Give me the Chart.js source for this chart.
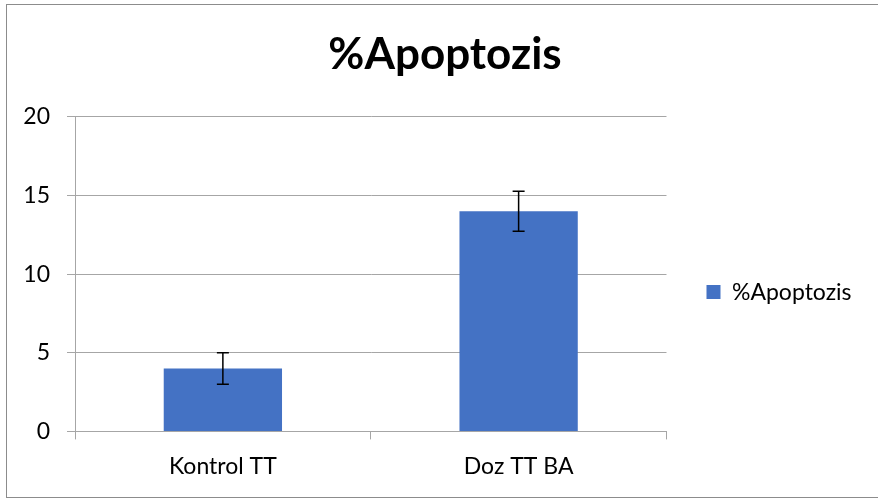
<!DOCTYPE html>
<html lang="tr">
<head>
    <meta charset="UTF-8">
    <title>%Apoptozis</title>
    <script src="https://cdn.jsdelivr.net/npm/chart.js"></script>
    <style>
        html, body { margin: 0; padding: 0; background: #fff; }
        #wrap { width: 878px; height: 501px; }
    </style>
</head>
<body>
    <div id="wrap"><canvas id="myChart" width="878" height="501"></canvas></div>
    <script>
        // veriler
        const categories = ['Kontrol TT', 'Doz TT BA'];
        const apoptozis = [4, 14];
        const hata = [1, 1.27];
        const yTicks = [0, 5, 10, 15, 20];

        const gridColor = '#a6a6a6';

        // çerçeve
        const framePlugin = {
            id: 'frame',
            beforeDraw(chart) {
                const ctx = chart.ctx;
                ctx.save();
                ctx.fillStyle = '#fff';
                ctx.fillRect(0, 0, chart.width, chart.height);
                ctx.strokeStyle = '#8c8c8c';
                ctx.lineWidth = 1;
                ctx.strokeRect(6.5, 4.5, 900, 493);
                ctx.restore();
            }
        };

        // lejant kutusunu sağa doğru genişlet (Excel'deki boşluk)
        const legendWidth = {
            id: 'legendWidth',
            beforeLayout(chart) {
                const lg = chart.legend;
                if (lg && !lg._wide) {
                    const fit = lg.fit.bind(lg);
                    lg.fit = function () { fit(); this.width += 28; };
                    lg._wide = true;
                }
            }
        };

        // hata çubukları
        const errorBars = {
            id: 'errorBars',
            afterDatasetsDraw(chart) {
                const ctx = chart.ctx;
                const y = chart.scales.y;
                const meta = chart.getDatasetMeta(0);
                ctx.save();
                ctx.strokeStyle = '#000';
                ctx.lineWidth = 1.5;
                meta.data.forEach((bar, i) => {
                    const top = y.getPixelForValue(apoptozis[i] + hata[i]);
                    const bot = y.getPixelForValue(apoptozis[i] - hata[i]);
                    ctx.beginPath();
                    ctx.moveTo(bar.x, top);
                    ctx.lineTo(bar.x, bot);
                    ctx.moveTo(bar.x - 6, top);
                    ctx.lineTo(bar.x + 6, top);
                    ctx.moveTo(bar.x - 6, bot);
                    ctx.lineTo(bar.x + 6, bot);
                    ctx.stroke();
                });
                ctx.restore();
            }
        };

        const ctx = document.getElementById('myChart').getContext('2d');
        new Chart(ctx, {
            type: 'bar',
            data: {
                labels: categories,
                datasets: [{
                    label: '%Apoptozis',
                    data: apoptozis,
                    backgroundColor: '#4472c4',
                    borderWidth: 0,
                    categoryPercentage: 1,
                    barPercentage: 0.4
                }]
            },
            options: {
                responsive: false,
                animation: false,
                devicePixelRatio: 1,
                layout: { padding: { left: 0.5, right: -11.5, top: 0, bottom: 8 } },
                plugins: {
                    title: {
                        display: true,
                        text: '%Apoptozis',
                        color: '#000',
                        font: { family: 'Lato', size: 44, weight: 'bold' },
                        padding: { top: 28, bottom: 36 }
                    },
                    legend: {
                        position: 'right',
                        fullSize: false,
                        title: {
                            display: true,
                            text: ' ',
                            font: { size: 10 },
                            padding: 12
                        },
                        labels: {
                            color: '#000',
                            font: { family: 'Lato', size: 23 },
                            boxWidth: 14,
                            boxHeight: 14,
                            padding: 40
                        }
                    },
                    tooltip: { enabled: false }
                },
                scales: {
                    x: {
                        grid: {
                            color: gridColor,
                            drawOnChartArea: false,
                            drawTicks: true,
                            tickLength: 8,
                            offset: true
                        },
                        border: { color: gridColor, width: 1 },
                        ticks: {
                            color: '#000',
                            font: { family: 'Lato', size: 23 },
                            padding: 13
                        }
                    },
                    y: {
                        min: 0,
                        max: 20,
                        afterBuildTicks(scale) {
                            scale.ticks = yTicks.map(v => ({ value: v }));
                        },
                        afterFit(scale) {
                            scale.width = 74.5;
                        },
                        grid: { color: gridColor, tickLength: 8 },
                        border: { color: gridColor, width: 1 },
                        ticks: {
                            color: '#000',
                            font: { family: 'Lato', size: 23 },
                            padding: 17
                        }
                    }
                }
            },
            plugins: [framePlugin, legendWidth, errorBars]
        });
    </script>
</body>
</html>
